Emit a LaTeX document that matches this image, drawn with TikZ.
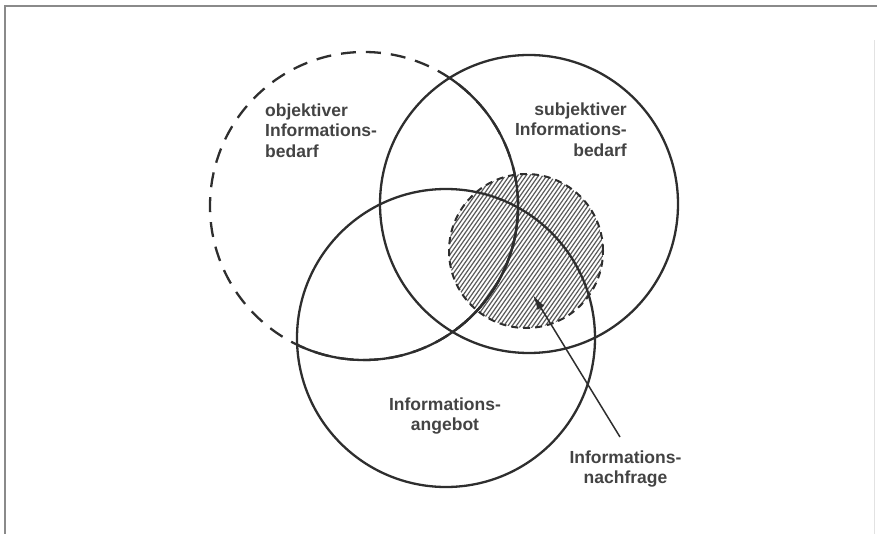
\documentclass[tikz,border=0pt]{standalone}
\usepackage{fontspec}
\setmainfont{Liberation Sans}
\usetikzlibrary{arrows.meta}

\definecolor{ink}{HTML}{2E2E2E}
\definecolor{frame}{HTML}{8A8A8A}
\definecolor{hatchgray}{HTML}{5A5A5A}

\tikzset{
  ring/.style={draw=ink, line width=2.3pt},
  dashring/.style={draw=ink, line width=2.3pt, dash pattern=on 15pt off 10pt},
  nfring/.style={draw=ink, line width=2pt, dash pattern=on 7pt off 5pt},
  hatch/.style={draw=hatchgray, line width=1.2pt},
  label/.style={font=\fontsize{17.5}{20.5}\selectfont\bfseries, text=ink!90, inner sep=0pt},
  pointer/.style={draw=ink, line width=1.5pt, -{Latex[length=15pt,width=8pt]}},
  border/.style={draw=frame, line width=2pt}
}

\begin{document}
\begin{tikzpicture}[x=1pt,y=-1pt]
  \useasboundingbox (0,0) rectangle (877,534);

  % frame
  \draw[border] (5,534) -- (5,6) -- (877,6);
  \draw[draw=frame!25, line width=1pt] (874,40) -- (874,534);

  % circle centres
  \coordinate (obj) at (364,206);
  \coordinate (subj) at (529,204);
  \coordinate (ang) at (446,338);
  \coordinate (nf) at (526,251);

  % hatched demand region
  \begin{scope}
    \clip (nf) circle[radius=77pt];
    \begin{scope}[shift={(526,251)}, rotate=55]
      \foreach \d in {-84,-80.6,...,84}
        \draw[hatch] (-90,\d) -- (90,\d);
    \end{scope}
  \end{scope}
  \draw[nfring] (nf) circle[radius=77pt];

  % objective need: dashed outside, solid where it overlaps the other two
  \draw[dashring] (obj) circle[radius=154pt];
  \begin{scope}
    \clip (subj) circle[radius=149pt];
    \draw[ring] (obj) circle[radius=154pt];
  \end{scope}
  \begin{scope}
    \clip (ang) circle[radius=149pt];
    \draw[ring] (obj) circle[radius=154pt];
  \end{scope}

  % subjective need and supply
  \draw[ring] (subj) circle[radius=149pt];
  \draw[ring] (ang) circle[radius=149pt];

  % labels
  \node[label, align=left, anchor=north west] (lobj) at (265,103.5)
    {objektiver\\Informations-\\bedarf};
  \node[label, align=right, anchor=north east] (lsubj) at (627,102.5)
    {subjektiver\\Informations-\\bedarf};
  \node[label, align=center, anchor=north] (lang) at (445,397.5)
    {Informations-\\angebot};
  \node[label, align=center, anchor=north] (lnf) at (625.5,450.5)
    {Informations-\\nachfrage};

  % pointer to the demand region
  \coordinate (tail) at (620,437);
  \coordinate (tip) at (533,295);
  \draw[pointer] (tail) -- (tip);
\end{tikzpicture}
\end{document}
